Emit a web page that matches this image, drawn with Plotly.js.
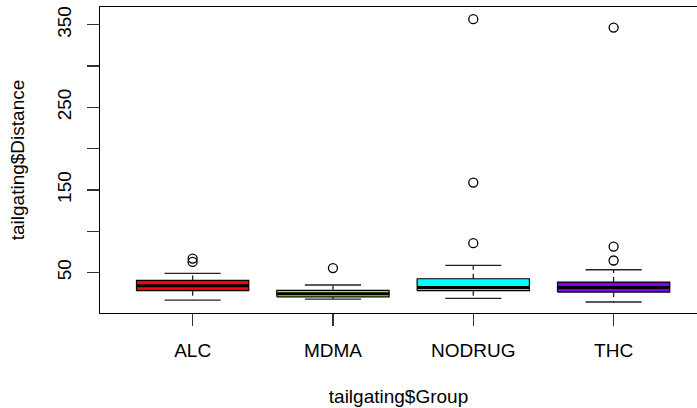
<!DOCTYPE html>
<html>
<head>
<meta charset="utf-8">
<script src="https://cdn.plot.ly/plotly-3.0.1.min.js"></script>
<style>html,body{margin:0;padding:0;background:#fff;}#chart{width:697px;height:408px;}</style>
</head>
<body>
<div id="chart"></div>
<script>
// ---- data ----
const categories = ['ALC', 'MDMA', 'NODRUG', 'THC'];
const lowerWhisker = [16.6, 17.8, 18.6, 14.2];
const q1 = [27.9, 20.5, 27.9, 26.3];
const median = [33.9, 24.3, 31.9, 31.9];
const q3 = [40.3, 28.3, 42.4, 38.4];
const upperWhisker = [48.8, 34.8, 58.5, 53.3];
const outliersALC = [66.8, 62.7];
const outliersMDMA = [55.3];
const outliersNODRUG = [85.5, 158.8, 356.7];
const outliersTHC = [64.5, 81.4, 346.6];
const fillColors = ['#FF0000', '#80FF00', '#00FFFF', '#8000FF'];
const yTickVals = [50, 100, 150, 200, 250, 300, 350];
const yTickText = ['50', '', '150', '', '250', '', '350'];

// ---- styling constants ----
const HALF_BOX = 0.4, HALF_CAP = 0.2;
const FONT = 'Liberation Sans, Arial, Helvetica, sans-serif';
const FS = 19;
const outliers = [outliersALC, outliersMDMA, outliersNODRUG, outliersTHC];

const traces = [];
categories.forEach((c, i) => {
  const x = i + 1;
  traces.push({
    type: 'scatter', mode: 'lines', fill: 'toself',
    x: [x - HALF_BOX, x + HALF_BOX, x + HALF_BOX, x - HALF_BOX, x - HALF_BOX],
    y: [q1[i], q1[i], q3[i], q3[i], q1[i]],
    fillcolor: fillColors[i],
    line: {color: '#000', width: 1.2},
    hoverinfo: 'skip'
  });
});
// whiskers (dashed)
const wx = [], wy = [];
categories.forEach((c, i) => {
  const x = i + 1;
  wx.push(x, x, null, x, x, null);
  wy.push(q3[i], upperWhisker[i], null, q1[i], lowerWhisker[i], null);
});
traces.push({type: 'scatter', mode: 'lines', x: wx, y: wy,
  line: {color: '#222', width: 1.3, dash: '5px,4px'}, connectgaps: false, hoverinfo: 'skip'});
// caps
const cx = [], cy = [];
categories.forEach((c, i) => {
  const x = i + 1;
  cx.push(x - HALF_CAP, x + HALF_CAP, null, x - HALF_CAP, x + HALF_CAP, null);
  cy.push(upperWhisker[i], upperWhisker[i], null, lowerWhisker[i], lowerWhisker[i], null);
});
traces.push({type: 'scatter', mode: 'lines', x: cx, y: cy,
  line: {color: '#222', width: 1.3}, connectgaps: false, hoverinfo: 'skip'});
// medians
const mx = [], my = [];
categories.forEach((c, i) => {
  const x = i + 1;
  mx.push(x - HALF_BOX, x + HALF_BOX, null);
  my.push(median[i], median[i], null);
});
traces.push({type: 'scatter', mode: 'lines', x: mx, y: my,
  line: {color: '#000', width: 3}, connectgaps: false, hoverinfo: 'skip'});
// outliers
const ox = [], oy = [];
outliers.forEach((arr, i) => arr.forEach(v => { ox.push(i + 1); oy.push(v); }));
traces.push({type: 'scatter', mode: 'markers', x: ox, y: oy,
  marker: {symbol: 'circle-open', size: 9, color: '#000', line: {width: 1.3, color: '#000'}},
  hoverinfo: 'skip'});

const layout = {
  width: 697, height: 408,
  margin: {l: 100, r: 0, t: 7, b: 95, pad: 0},
  paper_bgcolor: '#fff', plot_bgcolor: '#fff',
  showlegend: false, hovermode: false,
  font: {family: FONT, size: FS, color: '#000'},
  xaxis: {
    range: [0.34, 0.34 + 597 / 140.33],
    tickmode: 'array', tickvals: [1, 2, 3, 4], ticktext: categories,
    ticks: 'outside', ticklen: 12, tickwidth: 1.3, tickcolor: '#333',
    ticklabelstandoff: 8,
    showline: true, linecolor: '#000', linewidth: 1.3, mirror: true,
    showgrid: false, zeroline: false,
    tickfont: {family: FONT, size: FS, color: '#000'},
    title: {text: 'tailgating$Group', font: {family: FONT, size: FS, color: '#000'}, standoff: 29}
  },
  yaxis: {
    range: [0.9, 371.5],
    tickmode: 'array', tickvals: yTickVals, ticktext: yTickText,
    tickangle: -90,
    ticks: 'outside', ticklen: 12, tickwidth: 1.3, tickcolor: '#333',
    ticklabelstandoff: 8,
    showline: true, linecolor: '#000', linewidth: 1.3, mirror: false,
    showgrid: false, zeroline: false,
    tickfont: {family: FONT, size: FS, color: '#000'},
    title: {text: 'tailgating$Distance', font: {family: FONT, size: FS, color: '#000'}, standoff: 24}
  }
};

Plotly.newPlot('chart', traces, layout, {staticPlot: true, displayModeBar: false});
</script>
</body>
</html>
